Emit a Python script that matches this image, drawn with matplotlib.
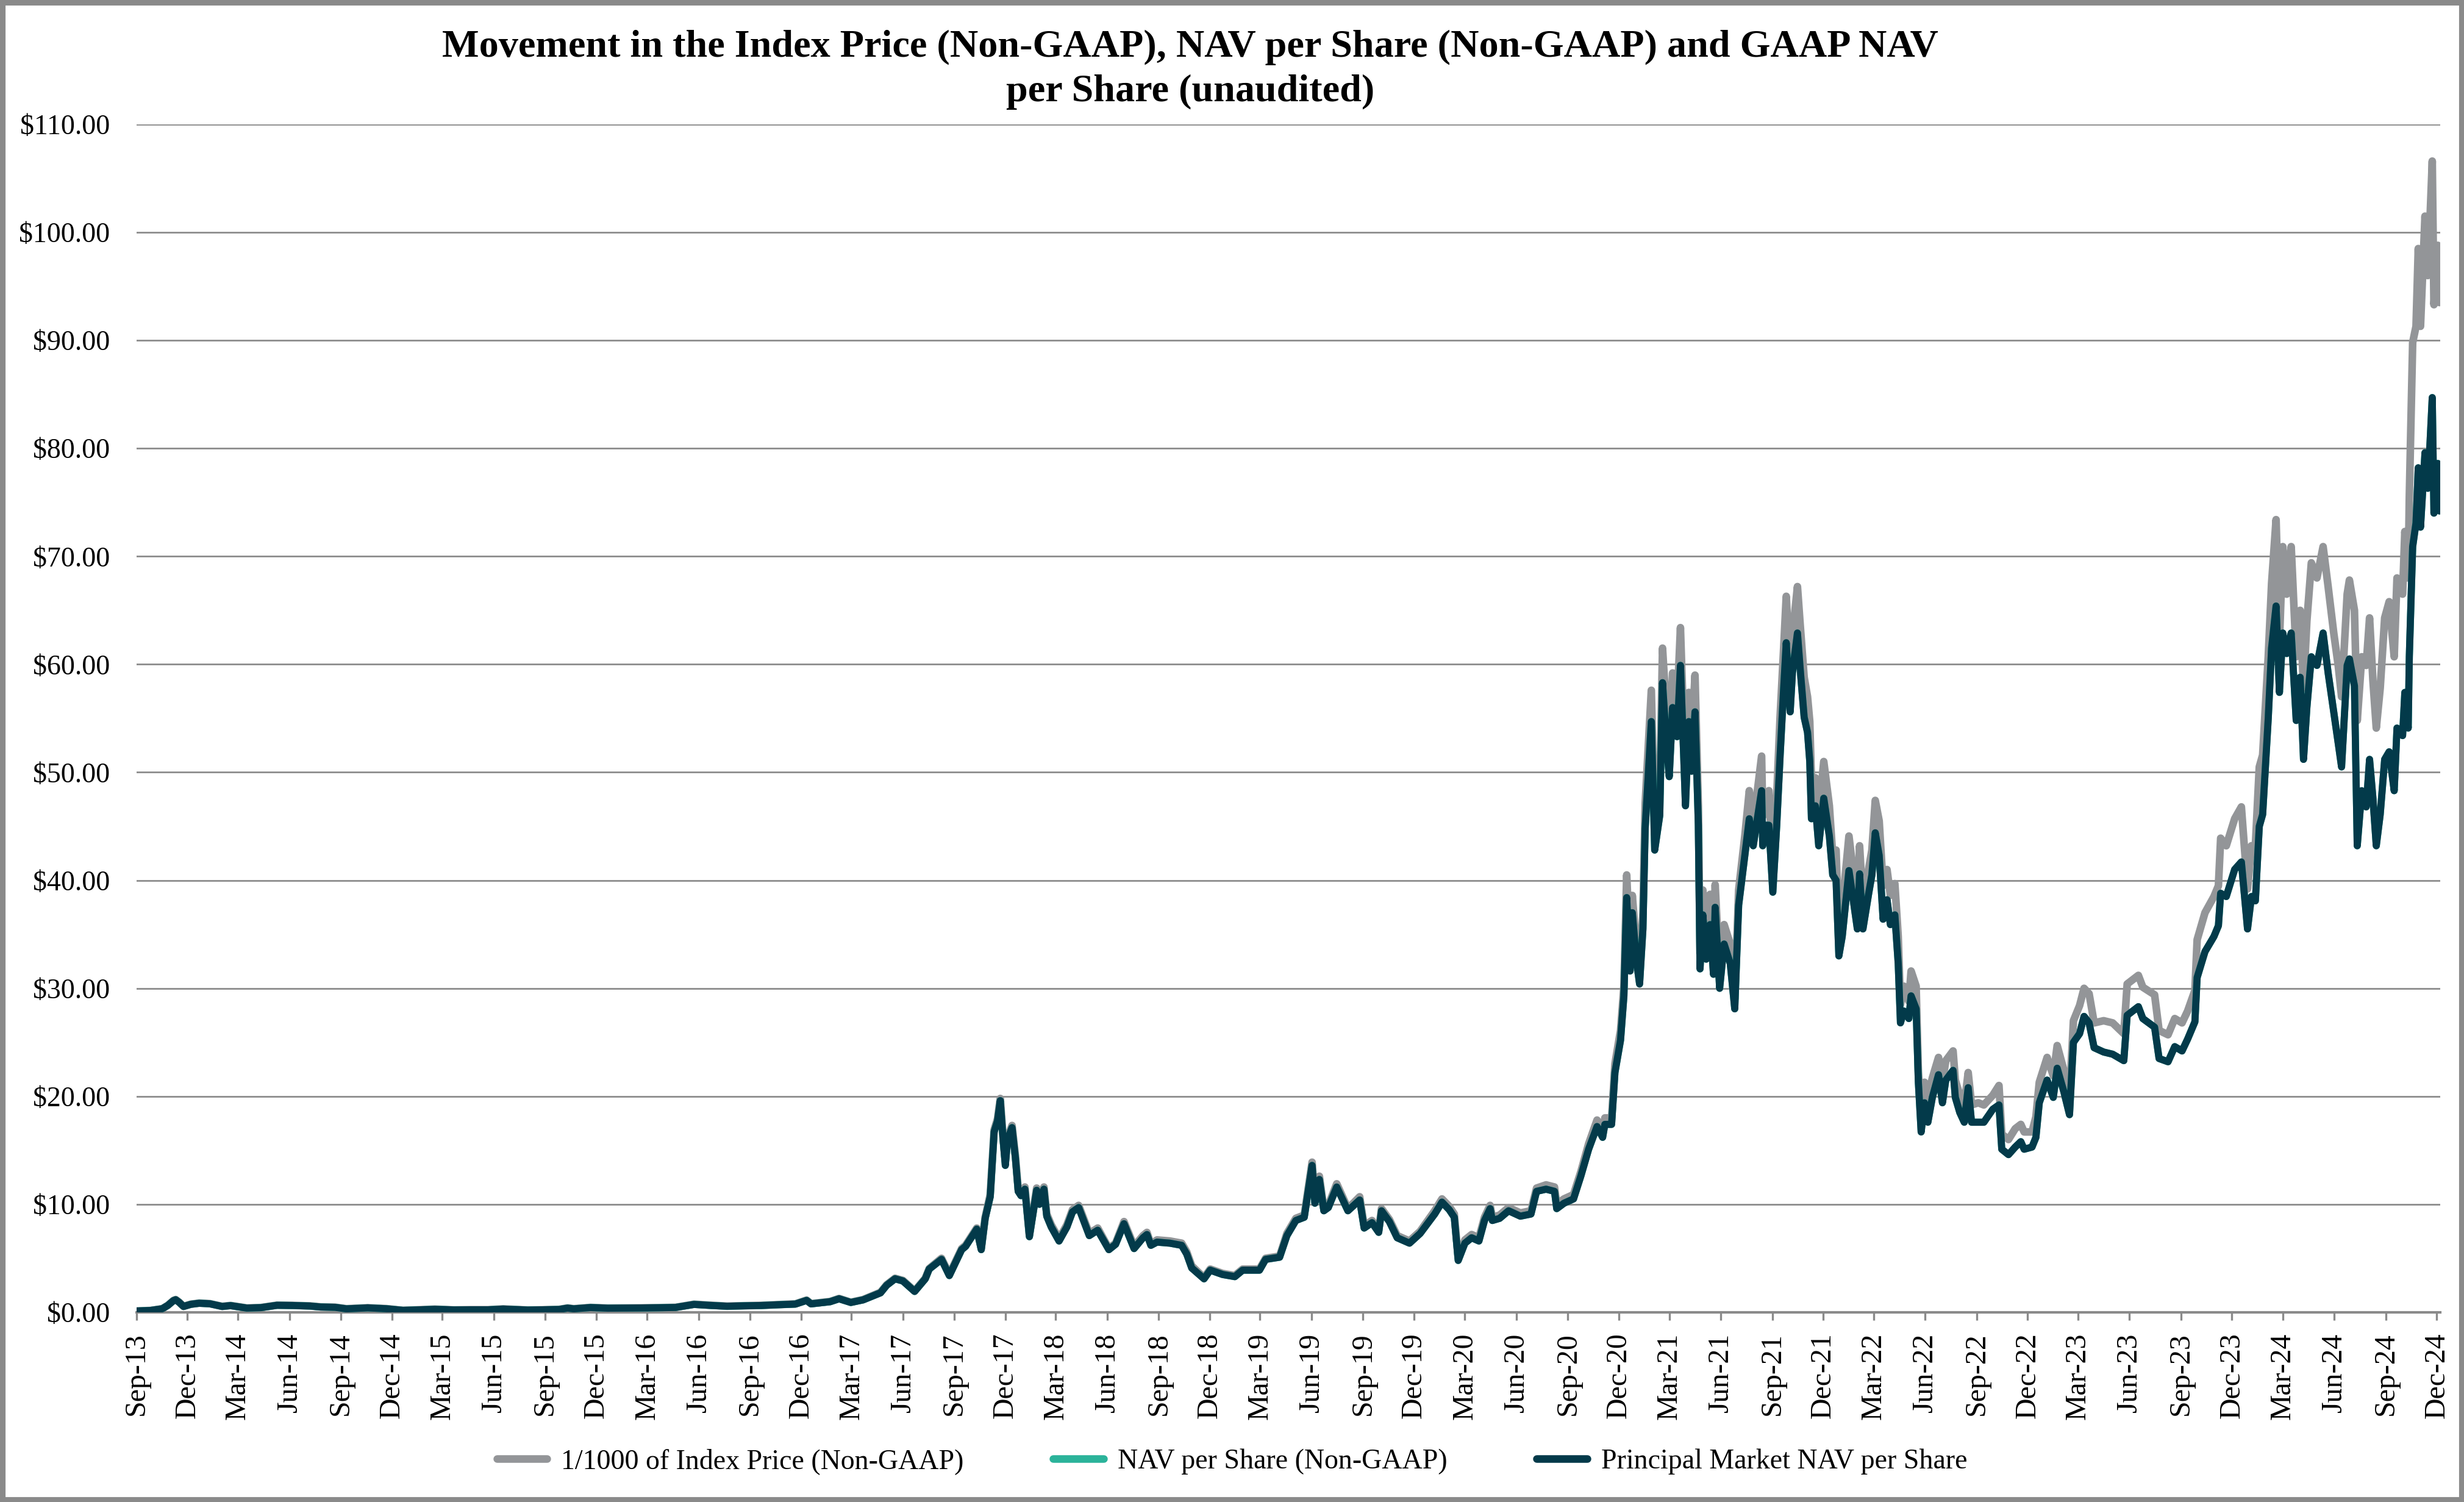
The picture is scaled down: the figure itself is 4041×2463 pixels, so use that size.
import matplotlib
matplotlib.use("Agg")
import matplotlib.pyplot as plt
import matplotlib.dates as mdates
from matplotlib.lines import Line2D
from matplotlib.patches import Rectangle
import pandas as pd

plt.rcParams['font.family'] = ['Liberation Serif', 'DejaVu Serif']

# dates (roughly twice a month, more around the spikes)
dates = [
    # 2013
    "2013-09-25", "2013-10-20", "2013-11-10", "2013-11-20", "2013-11-30", "2013-12-04", "2013-12-10", "2013-12-18", "2013-12-31",
    # 2014
    "2014-01-15", "2014-02-03", "2014-02-25", "2014-03-12", "2014-04-10", "2014-05-05", "2014-06-03", "2014-07-01", "2014-08-01",
    "2014-08-20", "2014-09-15", "2014-10-05", "2014-11-12", "2014-12-15",
    # 2015
    "2015-01-14", "2015-02-15", "2015-03-12", "2015-04-15", "2015-05-15", "2015-06-15", "2015-07-12", "2015-08-25", "2015-09-20",
    "2015-10-20", "2015-11-04", "2015-11-15", "2015-12-15",
    # 2016
    "2016-01-15", "2016-02-15", "2016-03-15", "2016-04-15", "2016-05-15", "2016-06-17", "2016-07-15", "2016-08-15", "2016-09-15",
    "2016-10-15", "2016-11-15", "2016-12-15",
    # 2017
    "2017-01-04", "2017-01-12", "2017-02-15", "2017-03-03", "2017-03-24", "2017-04-15", "2017-05-16", "2017-05-27", "2017-06-11",
    "2017-06-25", "2017-07-16", "2017-08-04", "2017-08-11", "2017-09-02", "2017-09-16", "2017-10-08", "2017-10-15", "2017-11-04",
    "2017-11-12", "2017-11-19", "2017-11-28", "2017-12-05", "2017-12-11", "2017-12-16", "2017-12-21", "2017-12-25", "2017-12-29",
    # 2018
    "2018-01-06", "2018-01-12", "2018-01-17", "2018-01-22", "2018-01-29", "2018-02-06", "2018-02-19", "2018-02-24", "2018-03-04",
    "2018-03-09", "2018-03-17", "2018-03-31", "2018-04-14", "2018-04-24", "2018-05-05", "2018-05-24", "2018-06-08", "2018-06-28",
    "2018-07-10", "2018-07-25", "2018-08-12", "2018-08-28", "2018-09-04", "2018-09-11", "2018-09-22", "2018-10-15", "2018-11-05",
    "2018-11-14", "2018-11-23", "2018-12-15", "2018-12-26",
    # 2019
    "2019-01-17", "2019-02-08", "2019-02-22", "2019-03-24", "2019-04-04", "2019-04-29", "2019-05-12", "2019-05-28", "2019-06-12",
    "2019-06-26", "2019-07-01", "2019-07-09", "2019-07-17", "2019-07-25", "2019-08-09", "2019-08-29", "2019-09-19", "2019-09-27",
    "2019-10-11", "2019-10-23", "2019-10-28", "2019-11-11", "2019-11-25", "2019-12-17",
    # 2020
    "2020-01-05", "2020-01-31", "2020-02-13", "2020-02-26", "2020-03-06", "2020-03-13", "2020-03-25", "2020-04-06", "2020-04-19",
    "2020-04-29", "2020-05-09", "2020-05-13", "2020-05-26", "2020-06-11", "2020-07-02", "2020-07-21", "2020-07-31", "2020-08-17",
    "2020-09-01", "2020-09-05", "2020-09-18", "2020-10-05", "2020-10-18", "2020-11-01", "2020-11-16", "2020-11-26", "2020-11-30",
    "2020-12-12", "2020-12-18", "2020-12-28",
    # 2021
    "2021-01-03", "2021-01-08", "2021-01-14", "2021-01-18", "2021-01-25", "2021-01-31", "2021-02-06", "2021-02-10", "2021-02-21",
    "2021-02-27", "2021-03-08", "2021-03-13", "2021-03-20", "2021-03-25", "2021-03-31", "2021-04-08", "2021-04-14", "2021-04-23",
    "2021-04-29", "2021-05-04", "2021-05-10", "2021-05-16", "2021-05-19", "2021-05-24", "2021-05-30", "2021-06-06", "2021-06-12",
    "2021-06-15", "2021-06-23", "2021-07-01", "2021-07-12", "2021-07-20", "2021-07-27", "2021-08-07", "2021-08-15", "2021-08-22",
    "2021-09-06", "2021-09-08", "2021-09-13", "2021-09-19", "2021-09-26", "2021-10-03", "2021-10-09", "2021-10-15", "2021-10-20",
    "2021-10-27", "2021-10-31", "2021-11-09", "2021-11-14", "2021-11-21", "2021-11-27", "2021-12-01", "2021-12-04", "2021-12-11",
    "2021-12-17", "2021-12-26",
    # 2022
    "2022-01-05", "2022-01-11", "2022-01-17", "2022-01-22", "2022-01-28", "2022-02-09", "2022-02-18", "2022-02-24", "2022-02-28",
    "2022-03-06", "2022-03-16", "2022-03-22", "2022-03-28", "2022-04-04", "2022-04-11", "2022-04-18", "2022-04-24", "2022-05-02",
    "2022-05-08", "2022-05-12", "2022-05-18", "2022-05-27", "2022-05-31", "2022-06-09", "2022-06-13", "2022-06-18", "2022-06-24",
    "2022-06-30", "2022-07-08", "2022-07-19", "2022-07-26", "2022-08-01", "2022-08-14", "2022-08-18", "2022-08-26", "2022-09-03",
    "2022-09-10", "2022-09-16", "2022-09-28", "2022-10-08", "2022-10-24", "2022-11-04", "2022-11-09", "2022-11-21", "2022-12-03",
    "2022-12-13", "2022-12-19",
    # 2023
    "2023-01-02", "2023-01-09", "2023-01-15", "2023-01-29", "2023-02-09", "2023-02-16", "2023-02-28", "2023-03-10", "2023-03-17",
    "2023-03-28", "2023-04-05", "2023-04-14", "2023-04-23", "2023-05-10", "2023-05-26", "2023-06-15", "2023-06-21", "2023-07-11",
    "2023-07-19", "2023-08-09", "2023-08-17", "2023-09-02", "2023-09-14", "2023-09-27", "2023-10-07", "2023-10-20", "2023-10-24",
    "2023-11-07", "2023-11-23", "2023-12-01", "2023-12-05", "2023-12-15", "2023-12-30",
    # 2024
    "2024-01-11", "2024-01-22", "2024-01-29", "2024-02-05", "2024-02-12", "2024-02-18", "2024-02-28", "2024-03-05", "2024-03-13",
    "2024-03-19", "2024-03-25", "2024-04-01", "2024-04-09", "2024-04-18", "2024-04-25", "2024-05-01", "2024-05-07", "2024-05-15",
    "2024-05-25", "2024-06-05", "2024-06-14", "2024-06-24", "2024-07-02", "2024-07-08", "2024-07-18", "2024-07-22", "2024-07-31",
    "2024-08-05", "2024-08-13", "2024-08-21", "2024-08-27", "2024-09-02", "2024-09-08", "2024-09-15", "2024-09-23", "2024-10-01",
    "2024-10-10", "2024-10-15", "2024-10-25", "2024-10-29", "2024-11-04", "2024-11-06", "2024-11-12", "2024-11-18", "2024-11-22",
    "2024-11-26", "2024-12-04", "2024-12-09", "2024-12-17", "2024-12-20", "2024-12-27", "2024-12-30", "2024-12-31",
]

# 1/1000 of index price (grey line)
index_price = [
    0.12, 0.17, 0.33, 0.65, 1.10, 1.18, 0.95, 0.55, 0.75,
    0.85, 0.80, 0.55, 0.63, 0.40, 0.44, 0.66, 0.64, 0.59,
    0.50, 0.47, 0.33, 0.42, 0.34,
    0.18, 0.24, 0.29, 0.22, 0.24, 0.24, 0.31, 0.21, 0.23,
    0.27, 0.40, 0.33, 0.45,
    0.39, 0.40, 0.41, 0.43, 0.46, 0.75, 0.66, 0.57, 0.61,
    0.64, 0.71, 0.78,
    1.13, 0.80, 1.00, 1.28, 0.93, 1.18, 1.85, 2.55, 3.15,
    2.95, 1.98, 3.15, 4.05, 5.00, 3.50, 5.90, 6.20, 7.80,
    5.90, 8.80, 10.9, 16.9, 17.9, 19.8, 16.2, 14.0, 16.2,
    17.3, 14.5, 11.4, 11.0, 11.6, 7.1, 11.5, 10.2, 11.6,
    9.1, 8.1, 6.8, 8.1, 9.5, 9.9, 7.3, 7.8, 5.9,
    6.4, 8.4, 6.1, 7.1, 7.4, 6.3, 6.7, 6.6, 6.4,
    5.6, 4.3, 3.2, 4.0,
    3.6, 3.4, 4.0, 4.0, 5.0, 5.2, 7.3, 8.7, 9.0,
    13.9, 10.3, 12.6, 9.6, 9.9, 11.9, 9.6, 10.7, 8.0,
    8.5, 7.6, 9.6, 8.6, 7.1, 6.6,
    7.5, 9.4, 10.5, 9.8, 9.1, 5.0, 6.7, 7.2, 6.9,
    8.8, 9.9, 8.8, 9.0, 9.7, 9.2, 9.4, 11.5, 11.8,
    11.6, 10.0, 10.5, 10.9, 13.0, 15.6, 17.8, 16.8, 18.0,
    18.0, 23.0, 26.1,
    30.2, 40.5, 33.2, 38.6, 34.0, 31.2, 37.0, 47.1, 57.6,
    44.2, 48.0, 61.5, 55.5, 52.0, 59.2, 56.2, 63.4, 48.9,
    57.4, 52.8, 59.0, 46.9, 33.2, 39.1, 34.5, 38.7, 33.2,
    39.6, 31.3, 35.9, 34.1, 29.0, 39.1, 44.1, 48.3, 45.1,
    51.5, 45.9, 47.8, 48.3, 40.9, 47.8, 55.1, 61.1, 66.3,
    59.2, 62.6, 67.2, 63.6, 58.8, 57.0, 54.7, 49.2, 49.5,
    46.0, 51.0,
    46.9, 42.3, 42.8, 35.0, 37.5, 44.1, 40.2, 37.3, 43.2,
    37.8, 41.0, 42.8, 47.4, 45.5, 39.5, 41.0, 38.6, 39.7,
    34.8, 28.5, 30.2, 28.8, 31.6, 30.2, 22.3, 18.1, 21.3,
    19.9, 21.7, 23.6, 21.3, 23.3, 24.2, 21.5, 20.1, 19.2,
    22.2, 19.2, 19.4, 19.2, 20.1, 21.0, 16.5, 16.0, 17.0,
    17.4, 16.7,
    16.7, 18.1, 21.3, 23.6, 21.9, 24.7, 22.4, 19.9, 27.0,
    28.4, 30.0, 29.5, 26.8, 27.0, 26.8, 25.8, 30.4, 31.2,
    30.1, 29.4, 26.1, 25.7, 27.2, 26.8, 27.9, 29.8, 34.5,
    37.0, 38.5, 39.5, 43.9, 43.2, 45.7,
    46.8, 39.2, 43.2, 43.2, 50.5, 51.6, 60.7, 67.5, 73.4,
    62.1, 70.9, 66.5, 70.9, 60.7, 65.0, 57.8, 64.0, 69.4,
    68.0, 70.9, 67.2, 62.9, 59.9, 57.0, 66.5, 67.8, 65.0,
    54.8, 60.7, 59.9, 64.3, 58.5, 54.1, 57.8, 64.3, 65.8,
    60.7, 68.0, 66.5, 72.3, 68.0, 75.5, 89.8, 91.3, 98.5,
    91.3, 101.5, 96.0, 106.6, 93.3, 98.8, 93.5, 94.0,
]

# principal market NAV per share (dark line)
principal_nav = [
    0.12, 0.17, 0.33, 0.64, 1.08, 1.16, 0.93, 0.54, 0.74,
    0.84, 0.79, 0.54, 0.62, 0.39, 0.43, 0.65, 0.63, 0.58,
    0.49, 0.46, 0.32, 0.41, 0.33,
    0.18, 0.23, 0.28, 0.22, 0.23, 0.23, 0.30, 0.21, 0.23,
    0.26, 0.39, 0.32, 0.44,
    0.38, 0.39, 0.40, 0.42, 0.45, 0.73, 0.64, 0.56, 0.60,
    0.63, 0.70, 0.76,
    1.10, 0.78, 0.98, 1.25, 0.91, 1.15, 1.80, 2.50, 3.10,
    2.90, 1.93, 3.10, 4.00, 4.90, 3.40, 5.80, 6.10, 7.70,
    5.80, 8.70, 10.7, 16.7, 17.7, 19.6, 16.0, 13.6, 16.0,
    17.1, 14.3, 11.2, 10.8, 11.4, 7.0, 11.3, 10.0, 11.4,
    8.9, 7.9, 6.6, 7.9, 9.3, 9.7, 7.1, 7.6, 5.8,
    6.3, 8.2, 5.9, 6.9, 7.2, 6.2, 6.5, 6.4, 6.2,
    5.4, 4.1, 3.1, 3.9,
    3.5, 3.3, 3.9, 3.9, 4.9, 5.1, 7.1, 8.5, 8.8,
    13.6, 10.1, 12.3, 9.4, 9.7, 11.6, 9.4, 10.4, 7.8,
    8.3, 7.4, 9.4, 8.4, 6.9, 6.4,
    7.3, 9.1, 10.2, 9.5, 8.8, 4.8, 6.4, 6.9, 6.6,
    8.5, 9.6, 8.5, 8.7, 9.4, 8.9, 9.1, 11.2, 11.4,
    11.2, 9.6, 10.1, 10.5, 12.6, 15.1, 17.2, 16.2, 17.4,
    17.4, 22.2, 25.2,
    29.3, 38.4, 31.6, 37.0, 32.7, 30.4, 35.5, 44.8, 54.7,
    42.8, 46.0, 58.3, 52.6, 49.6, 56.0, 53.3, 59.9, 46.9,
    54.7, 50.1, 55.6, 45.1, 31.8, 36.8, 32.7, 35.9, 31.3,
    37.5, 30.0, 34.1, 32.3, 28.1, 37.7, 42.3, 45.7, 43.2,
    48.3, 43.2, 45.1, 45.1, 38.9, 45.1, 51.5, 57.4, 62.0,
    55.6, 59.2, 62.9, 59.5, 55.1, 53.7, 51.0, 45.7, 46.9,
    43.2, 47.6,
    44.1, 40.5, 40.0, 33.0, 34.8, 40.9, 37.7, 35.5, 40.6,
    35.5, 38.7, 40.5, 44.4, 42.3, 36.4, 38.2, 35.9, 36.8,
    32.3, 26.8, 27.9, 27.2, 29.3, 28.1, 21.3, 16.7, 19.4,
    17.6, 19.9, 22.0, 19.4, 21.5, 22.4, 19.9, 18.5, 17.6,
    20.8, 17.6, 17.6, 17.6, 18.8, 19.2, 15.1, 14.6, 15.3,
    15.8, 15.1,
    15.3, 16.2, 19.4, 21.5, 19.9, 22.6, 20.4, 18.3, 25.0,
    25.8, 27.4, 26.8, 24.5, 24.1, 23.9, 23.3, 27.5, 28.3,
    27.2, 26.4, 23.5, 23.2, 24.6, 24.2, 25.3, 26.9, 31.0,
    33.4, 34.8, 35.8, 38.8, 38.5, 41.0,
    41.7, 35.5, 38.5, 38.1, 45.0, 46.1, 55.0, 61.5, 65.4,
    57.4, 62.9, 61.0, 62.9, 54.8, 58.8, 51.2, 56.0, 60.7,
    59.9, 62.9, 59.2, 55.6, 52.7, 50.5, 59.9, 60.5, 58.0,
    43.2, 48.3, 46.8, 51.2, 47.6, 43.2, 46.1, 51.2, 51.9,
    48.3, 54.1, 53.4, 57.4, 54.1, 60.7, 70.9, 73.1, 78.2,
    72.7, 79.6, 76.3, 84.7, 74.0, 78.6, 74.2, 74.7,
]

# the non-GAAP NAV per share sits exactly under the principal market line
nav_share = principal_nav

series_labels = ["1/1000 of Index Price (Non-GAAP)", "NAV per Share (Non-GAAP)", "Principal Market NAV per Share"]
series_colors = ["#939598", "#2bb39a", "#033a4a"]

assert len(dates) == len(index_price) == len(principal_nav)

x = pd.to_datetime(dates)

fig = plt.figure(figsize=(4041 / 300, 2463 / 300), dpi=300)
ax = fig.add_axes([0.0554, 0.1263, 0.9349, 0.7909])

ax.plot(x, index_price, color=series_colors[0], lw=3.0, solid_joinstyle='round', zorder=3)
ax.plot(x, nav_share, color=series_colors[1], lw=2.8, solid_joinstyle='round', zorder=4)
ax.plot(x, principal_nav, color=series_colors[2], lw=2.8, solid_joinstyle='round', zorder=5)

# y axis: $0 - $110 with horizontal grid
ax.set_ylim(0, 110)
ax.set_yticks(range(0, 111, 10))
ax.set_yticklabels(["${:,.2f}".format(v) for v in range(0, 111, 10)], fontsize=11)
ax.yaxis.grid(True, color='#8a8a8a', lw=0.65)
ax.set_axisbelow(True)
ax.tick_params(axis='y', length=0, pad=10.5)

# x axis: quarterly ticks on the 25th, like the source chart
ax.set_xlim(pd.Timestamp("2013-09-25"), pd.Timestamp("2024-12-31"))
ticks = pd.date_range("2013-09-25", "2024-12-25", freq=pd.DateOffset(months=3))
ax.set_xticks(ticks)
ax.xaxis.set_major_formatter(mdates.DateFormatter('%b-%y'))
ax.tick_params(axis='x', direction='out', length=3, width=0.8, color='#8a8a8a', labelsize=11.5,
               labelrotation=90, pad=5)

for s in ['top', 'right', 'left']:
    ax.spines[s].set_visible(False)
ax.spines['bottom'].set_color('#8a8a8a')
ax.spines['bottom'].set_linewidth(1.0)

fig.text(0.483, 0.9535,
         "Movement in the Index Price (Non-GAAP), NAV per Share (Non-GAAP) and GAAP NAV\nper Share (unaudited)",
         ha='center', va='center', fontsize=15.4, fontweight='bold', linespacing=1.35)

handles = [Line2D([0], [0], color=c, lw=3.0, solid_capstyle='round') for c in series_colors]
fig.legend(handles, series_labels, loc='center', bbox_to_anchor=(0.5, 0.0268), ncol=3, frameon=False,
           fontsize=11, handlelength=1.8, handletextpad=0.5, columnspacing=3.2)

# grey frame around the whole picture
fig.patches.append(Rectangle((0.001, 0.0015), 0.998, 0.997, transform=fig.transFigure, fill=False,
                             edgecolor='#8a8a8a', lw=2.2))

fig.savefig("out.png", dpi=300)
